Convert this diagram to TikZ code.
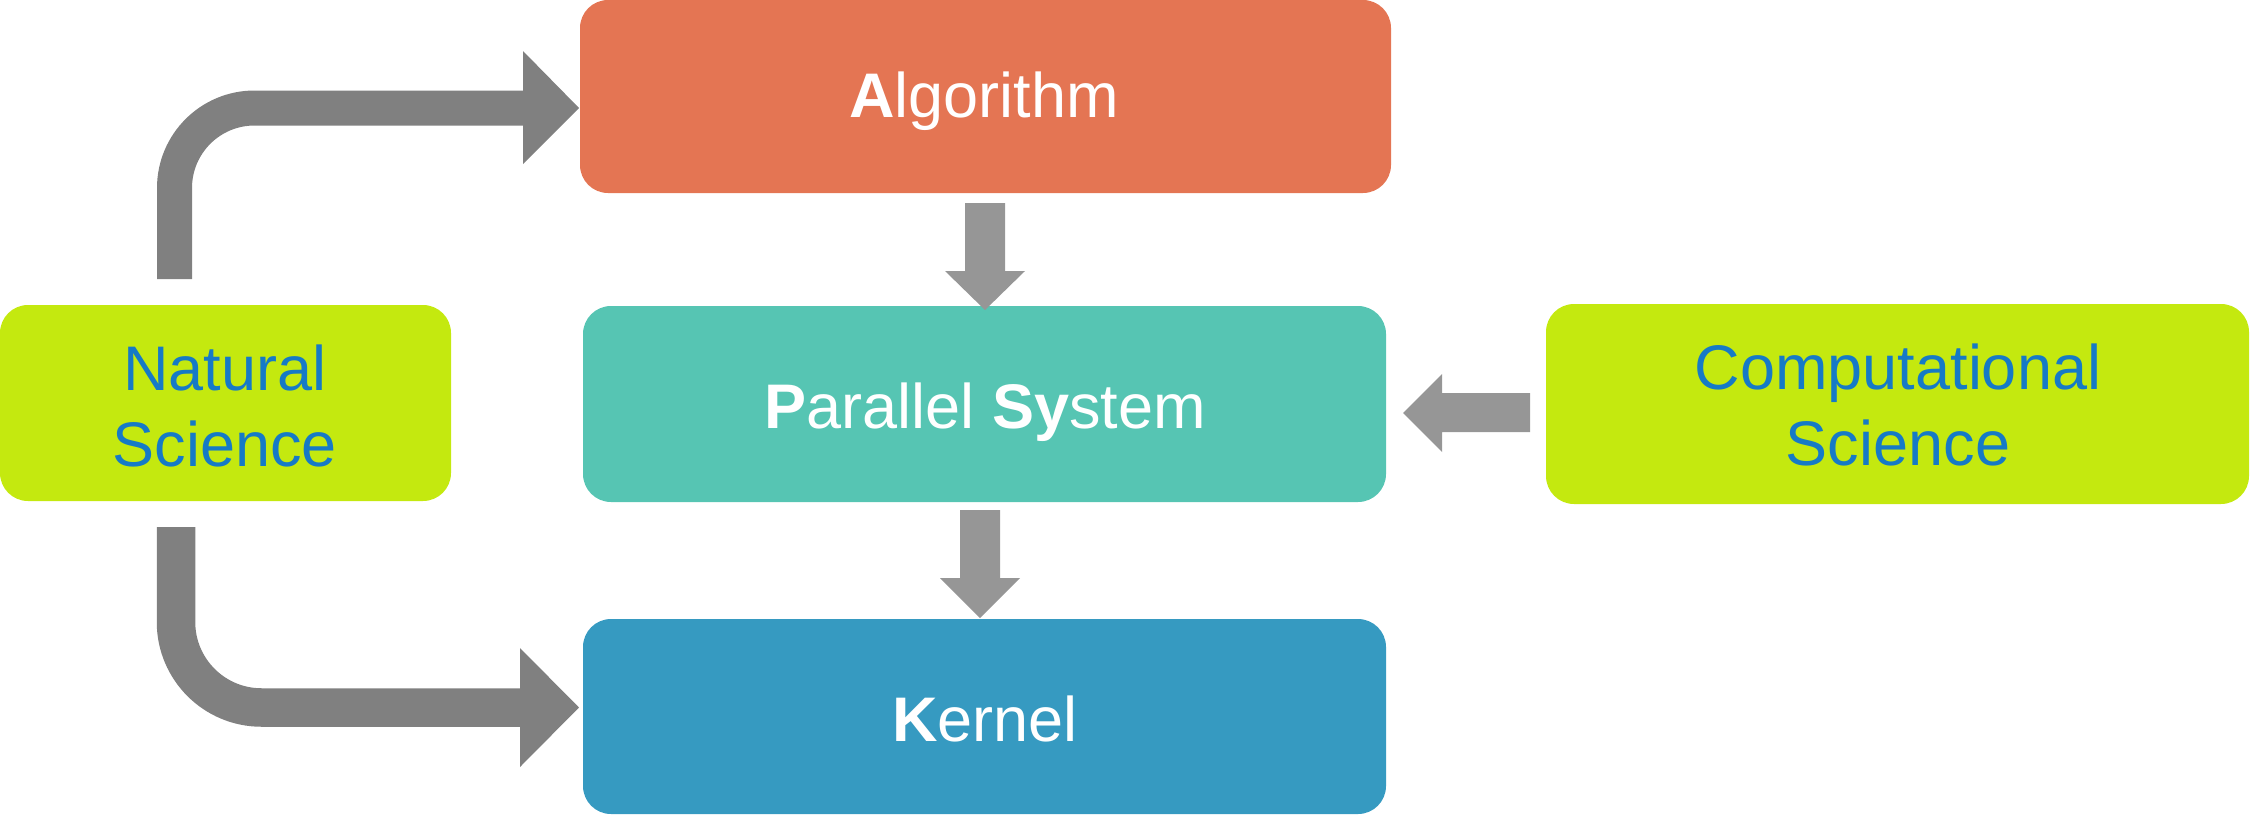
\documentclass[tikz,border=0pt]{standalone}
\usepackage{fontspec}
\setmainfont{Liberation Sans}
\usetikzlibrary{calc}
\definecolor{algc}{HTML}{E47553}
\definecolor{parc}{HTML}{56C5B3}
\definecolor{kerc}{HTML}{369AC1}
\definecolor{limec}{HTML}{C4E90F}
\definecolor{txtblue}{HTML}{167AC6}
\definecolor{bentgray}{HTML}{808080}
\definecolor{flowgray}{HTML}{969696}
\begin{document}
\begin{tikzpicture}[x=0.5pt,y=-0.5pt,
  box/.style={rectangle, rounded corners=14pt, inner sep=0pt, draw=none},
  lbl/.style={inner sep=0pt, anchor=base, align=center,
    font=\fontsize{31.5pt}{38pt}\selectfont},
  bent/.style={draw=bentgray, line width=#1},
  flow/.style={fill=flowgray}]
\useasboundingbox (0,0) rectangle (2250,815);
% boxes
\node[box, fill=algc, minimum width=405.5pt, minimum height=96.5pt] (alg) at (985.5,96.5) {};
\node[box, fill=parc, minimum width=401.5pt, minimum height=98pt] (par) at (984.5,404) {};
\node[box, fill=kerc, minimum width=401.5pt, minimum height=97.5pt] (ker) at (984.5,716.5) {};
\node[box, fill=limec, minimum width=225.5pt, minimum height=98pt] (nat) at (225.5,403) {};
\node[box, fill=limec, minimum width=351.5pt, minimum height=100pt] (comp) at (1897.5,404) {};
% labels
\node[lbl, text=white] (algT) at (984,117) {\textbf{A}lgorithm};
\node[lbl, text=white] (parT) at (985,428) {\textbf{P}arallel \textbf{Sy}stem};
\node[lbl, text=white] (kerT) at (985,741) {\textbf{K}ernel};
\node[lbl, text=txtblue] (natT) at (225,466) {Natural\\Science};
\node[lbl, text=txtblue] (compT) at (1898,465) {Computational\\Science};
% upper bent arrow: Natural Science -> Algorithm
\coordinate (u0) at (174.5,279);
\coordinate (u1) at (525,108);
\draw[bent=17.5pt, rounded corners=40pt] (u0) |- (u1);
\fill[bentgray] (523,51) -- (u1 -| 579,0) -- (523,164) -- cycle;
% lower bent arrow: Natural Science -> Kernel
\coordinate (l0) at (176,527);
\coordinate (l1) at (522,707.5);
\draw[bent=19.25pt, rounded corners=42.75pt] (l0) |- (l1);
\fill[bentgray] (520,648) -- (l1 -| 579,0) -- (520,767) -- cycle;
% Algorithm -> Parallel System
\fill[flowgray] (965,203) -- (965,271) -- (945,271) -- (985,310) -- (1025,271) -- (1005,271) -- (1005,203) -- cycle;
% Parallel System -> Kernel
\fill[flowgray] (960,510) -- (960,578) -- (940,578) -- (980,618) -- (1020,578) -- (1000,578) -- (1000,510) -- cycle;
% Computational Science -> Parallel System
\fill[flowgray] (1530,393) -- (1442,393) -- (1442,374) -- (1403,413) -- (1442,452) -- (1442,432) -- (1530,432) -- cycle;
\end{tikzpicture}
\end{document}
